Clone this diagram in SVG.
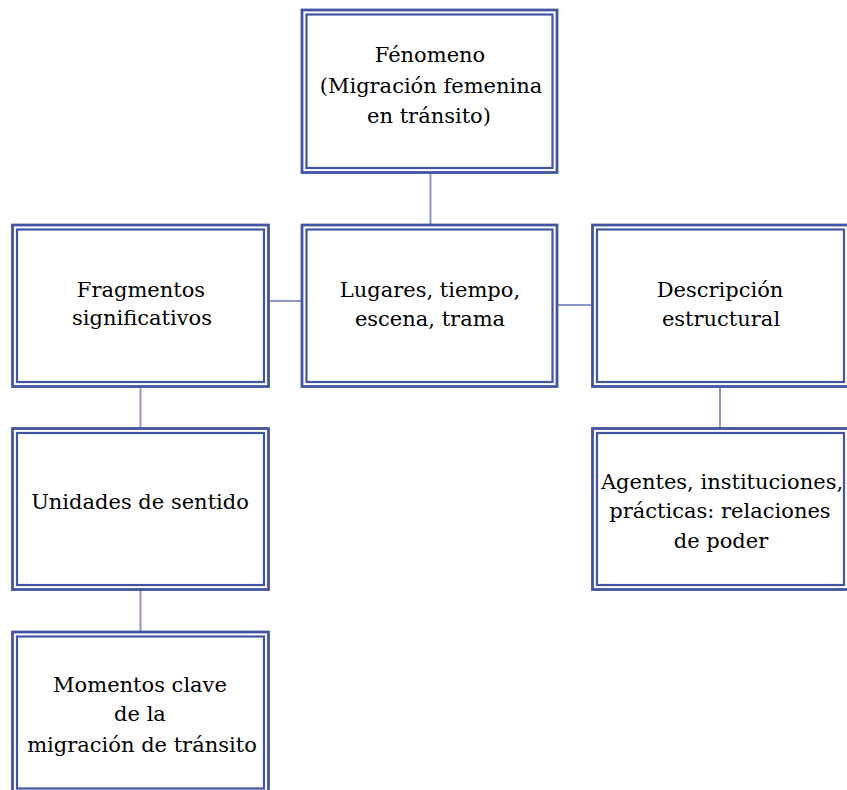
<svg xmlns="http://www.w3.org/2000/svg" width="847" height="790" viewBox="0 0 847 790">
<style>
.o{fill:none;stroke:#4354A3;stroke-width:2.8}
.i{fill:none;stroke:#4354A3;stroke-width:2.2}
.bg{fill:#fff}
.t{font-family:"DejaVu Serif","Liberation Serif",serif;font-size:21px;fill:#000;text-anchor:middle}
.c{stroke:#8E97CC;stroke-width:2;fill:none}
</style>
<rect width="847" height="790" fill="#fff"/>
<g id="connectors">
<line class="c" x1="430.5" y1="172.5" x2="430.5" y2="225"/>
<line class="c" x1="268.5" y1="301" x2="302" y2="301"/>
<line class="c" x1="557" y1="305" x2="592.5" y2="305"/>
<line class="c" x1="140.5" y1="386.5" x2="140.5" y2="428.5"/>
<line class="c" x1="720" y1="386.5" x2="720" y2="428.5"/>
<line class="c" x1="140.5" y1="589.5" x2="140.5" y2="632"/>
</g>
<g id="n-fenomeno">
<rect class="bg" x="302" y="10" width="255" height="162.5"/>
<rect class="o" x="302" y="10" width="255" height="162.5"/>
<rect class="i" x="306.5" y="14.5" width="246" height="153.5"/>
<text class="t" x="430" y="62">Fénomeno</text>
<text class="t" x="431" y="93">(Migración femenina</text>
<text class="t" x="429" y="123">en tránsito)</text>
</g>
<g id="n-fragmentos">
<rect class="bg" x="12.5" y="225" width="256" height="161.5"/>
<rect class="o" x="12.5" y="225" width="256" height="161.5"/>
<rect class="i" x="17" y="229.5" width="247" height="152.5"/>
<text class="t" x="141" y="297">Fragmentos</text>
<text class="t" x="142" y="325">significativos</text>
</g>
<g id="n-lugares">
<rect class="bg" x="302" y="225" width="255" height="161.5"/>
<rect class="o" x="302" y="225" width="255" height="161.5"/>
<rect class="i" x="306.5" y="229.5" width="246" height="152.5"/>
<text class="t" x="430" y="297">Lugares, tiempo,</text>
<text class="t" x="430" y="326">escena, trama</text>
</g>
<g id="n-descripcion">
<rect class="bg" x="592.5" y="225" width="256" height="161.5"/>
<rect class="o" x="592.5" y="225" width="256" height="161.5"/>
<rect class="i" x="597" y="229.5" width="247" height="152.5"/>
<text class="t" x="720" y="297">Descripción</text>
<text class="t" x="721" y="326">estructural</text>
</g>
<g id="n-unidades">
<rect class="bg" x="12.5" y="428.5" width="256" height="161"/>
<rect class="o" x="12.5" y="428.5" width="256" height="161"/>
<rect class="i" x="17" y="433" width="247" height="152"/>
<text class="t" x="140" y="509">Unidades de sentido</text>
</g>
<g id="n-agentes">
<rect class="bg" x="592.5" y="428.5" width="256" height="161"/>
<rect class="o" x="592.5" y="428.5" width="256" height="161"/>
<rect class="i" x="597" y="433" width="247" height="152"/>
<text class="t" x="722" y="489">Agentes, instituciones,</text>
<text class="t" x="720" y="518">prácticas: relaciones</text>
<text class="t" x="721" y="548">de poder</text>
</g>
<g id="n-momentos">
<rect class="bg" x="12.5" y="632" width="256" height="161"/>
<rect class="o" x="12.5" y="632" width="256" height="161"/>
<rect class="i" x="17" y="636.5" width="247" height="152"/>
<text class="t" x="140" y="692">Momentos clave</text>
<text class="t" x="140" y="721">de la</text>
<text class="t" x="142" y="752">migración de tránsito</text>
</g>
</svg>
